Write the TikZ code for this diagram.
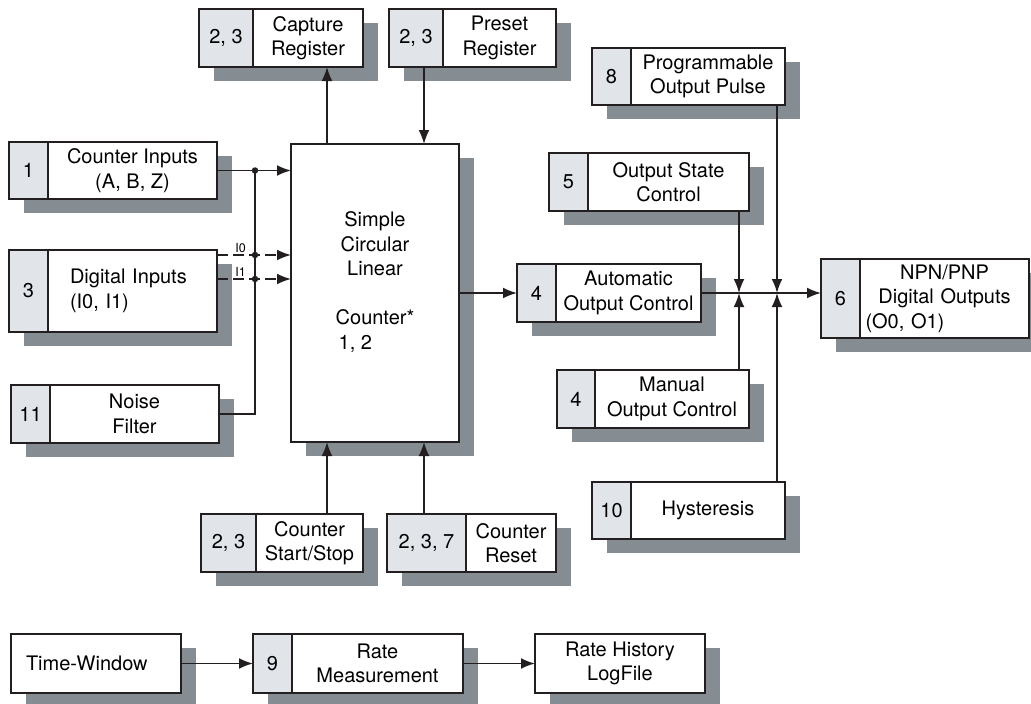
\documentclass[tikz,border=0pt]{standalone}
\usepackage{fontspec}
\setmainfont{TeX Gyre Heros}
\usetikzlibrary{positioning,arrows.meta,shadows}

\definecolor{shadowgray}{HTML}{858C92}
\definecolor{cellgray}{HTML}{E1E4E9}
\definecolor{ink}{HTML}{231F20}

\tikzstyle{block} = [rectangle, draw=ink, fill=white, line width=1.9pt, inner sep=3pt, outer sep=0pt, align=center, drop shadow={shadow xshift=15pt, shadow yshift=-14pt, fill=shadowgray, opacity=1}]
\tikzstyle{numcell} = [block, fill=cellgray, anchor=north west]
\tikzstyle{line} = [draw=ink, -{Latex[length=14pt,width=11pt]}, line width=1.8pt]
\tikzstyle{wire} = [draw=ink, line width=1.8pt]
\tikzstyle{dot} = [circle, fill=ink, inner sep=0pt, minimum size=6.5pt]
\tikzstyle{sig} = [font=\fontsize{12.5}{12.5}\selectfont, inner sep=1.5pt]

\begin{document}
\begin{tikzpicture}[x=1pt, y=-1pt, font=\fontsize{20}{24.5}\selectfont]
    \useasboundingbox (0,0) rectangle (1031,704);

    % INPUTS
        \node [numcell, minimum width=39pt, minimum height=57pt]
            (cntin-n) at (9,142) {1};
        \node [block, right=0pt of cntin-n, minimum width=169pt, minimum height=57pt]
            (cntin) {Counter Inputs\\(A, B, Z)};
        \node [numcell, minimum width=39pt, minimum height=82pt]
            (digin-n) at (9,250) {3};
        \node [block, right=0pt of digin-n, minimum width=169pt, minimum height=82pt, align=left, text width=125pt]
            (digin) {Digital Inputs\\(I0, I1)};
        \node [numcell, minimum width=39pt, minimum height=58pt]
            (noise-n) at (11,385) {11};
        \node [block, right=0pt of noise-n, minimum width=169pt, minimum height=58pt]
            (noise) {Noise\\Filter};

    % REGISTERS
        \node [numcell, minimum width=54pt, minimum height=58pt]
            (capt-n) at (199,9) {2, 3};
        \node [block, right=0pt of capt-n, minimum width=110pt, minimum height=58pt]
            (capt) {Capture\\Register};
        \node [numcell, minimum width=54pt, minimum height=58pt]
            (preset-n) at (389,9) {2, 3};
        \node [block, right=0pt of preset-n, minimum width=113pt, minimum height=58pt]
            (preset) {Preset\\Register};

    % COUNTER
        \node [block, anchor=north west, minimum width=168pt, minimum height=298pt]
            (counter) at (291,144) {Simple\\Circular\\Linear\\[24.5pt]Counter*\\\makebox[0pt][l]{\hspace{3pt}1, 2}\hphantom{Counter*}\\\mbox{}};

    % START/STOP + RESET
        \node [numcell, minimum width=55pt, minimum height=58pt]
            (stst-n) at (201,514) {2, 3};
        \node [block, right=0pt of stst-n, minimum width=107pt, minimum height=58pt]
            (stst) {Counter\\Start/Stop};
        \node [numcell, minimum width=79pt, minimum height=58pt]
            (reset-n) at (387,514) {2, 3, 7};
        \node [block, right=0pt of reset-n, minimum width=90pt, minimum height=58pt]
            (reset) {Counter\\Reset};

    % OUTPUT CONTROL
        \node [numcell, minimum width=39pt, minimum height=57pt]
            (progp-n) at (592,48) {8};
        \node [block, right=0pt of progp-n, minimum width=154pt, minimum height=57pt]
            (progp) {Programmable\\Output Pulse};
        \node [numcell, minimum width=39pt, minimum height=58pt]
            (outst-n) at (549,153) {5};
        \node [block, right=0pt of outst-n, minimum width=161pt, minimum height=58pt]
            (outst) {Output State\\Control};
        \node [numcell, minimum width=39pt, minimum height=58pt]
            (outauto-n) at (517,264) {4};
        \node [block, right=0pt of outauto-n, minimum width=145pt, minimum height=58pt]
            (outauto) {Automatic\\Output Control};
        \node [numcell, minimum width=38pt, minimum height=58pt]
            (manual-n) at (557,370) {4};
        \node [block, right=0pt of manual-n, minimum width=154pt, minimum height=58pt]
            (manual) {Manual\\Output Control};
        \node [numcell, minimum width=39pt, minimum height=57pt]
            (hyst-n) at (592,482) {10};
        \node [block, right=0pt of hyst-n, minimum width=154pt, minimum height=57pt]
            (hyst) {Hysteresis};

    % OUTPUTS
        \node [numcell, minimum width=39pt, minimum height=79pt]
            (npn-n) at (821,259) {6};
        \node [block, right=0pt of npn-n, minimum width=169pt, minimum height=79pt, text width=158pt]
            (npn) {NPN/PNP\\Digital Outputs\\(O0, O1)\hfill\mbox{}};

    % RATE
        \node [block, anchor=north west, minimum width=170pt, minimum height=59pt, align=left, text width=140pt]
            (timewin) at (11,634) {Time-Window};
        \node [numcell, minimum width=39pt, minimum height=59pt]
            (rate-n) at (253,634) {9};
        \node [block, right=0pt of rate-n, minimum width=171pt, minimum height=59pt]
            (rate) {Rate\\Measurement};
        \node [block, anchor=north west, minimum width=170pt, minimum height=59pt]
            (hist) at (535,634) {Rate History\\LogFile};

    % columns of the vertical lines
        \coordinate (bus) at (255,0);
        \coordinate (i0) at (255,255);
        \coordinate (i1) at (255,279);
        \coordinate (colA) at (327,0);
        \coordinate (colB) at (424,0);
        \coordinate (colC) at (739,0);
        \coordinate (colD) at (777,0);

    % LINES inputs -> counter
        \path[line]
            (cntin.east) -- (counter.west |- cntin.east);
        \path[line, dash pattern=on 11pt off 5pt]
            (digin.east |- i0) -- node[sig, pos=.32, above] (lbl-i0) {I0} (counter.west |- i0);
        \path[line, dash pattern=on 11pt off 5pt]
            (digin.east |- i1) -- node[sig, pos=.32, above] (lbl-i1) {I1} (counter.west |- i1);
        \path[wire]
            (noise.east) -| (bus |- cntin.east);
        \node [dot] (d1) at (bus |- cntin.east) {};
        \node [dot] (d2) at (i0) {};
        \node [dot] (d3) at (i1) {};

    % LINES registers, start/stop, reset
        \path[line]
            (counter.north -| colA) -- (capt.south -| colA);
        \path[line]
            (preset-n.south -| colB) -- (counter.north -| colB);
        \path[line]
            (stst.north -| colA) -- (counter.south -| colA);
        \path[line]
            (reset-n.north -| colB) -- (counter.south -| colB);

    % LINES counter -> outputs
        \path[line]
            (counter.east |- outauto.east) -- (outauto-n.west);
        \path[line]
            (outauto.east) -- (npn-n.west |- outauto.east);
        \path[line]
            (outst.south -| colC) -- (colC |- outauto.east);
        \path[line]
            (manual.north -| colC) -- (colC |- outauto.east);
        \path[line]
            (progp.south -| colD) -- (colD |- outauto.east);
        \path[line]
            (hyst.north -| colD) -- (colD |- outauto.east);

    % LINES rate
        \path[line]
            (timewin.east) -- (rate-n.west);
        \path[line]
            (rate.east) -- (hist.west);
\end{tikzpicture}
\end{document}
